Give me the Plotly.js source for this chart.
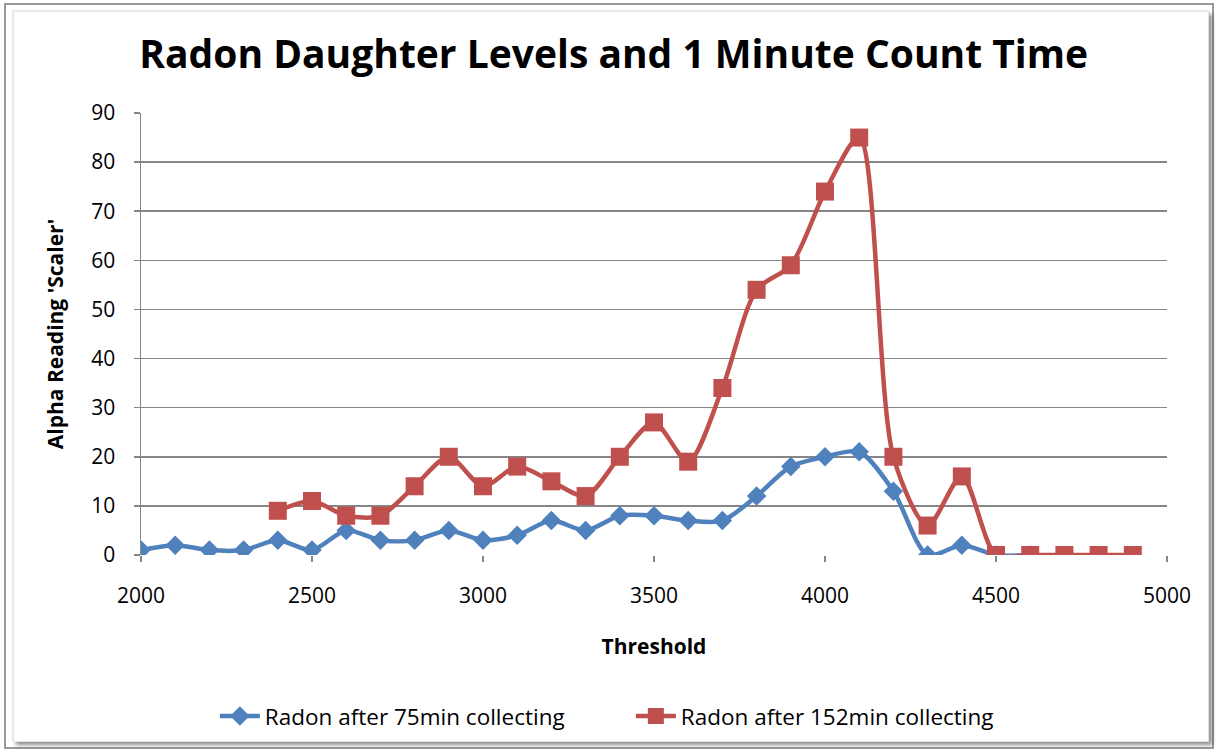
<!DOCTYPE html>
<html>
<head>
<meta charset="utf-8">
<script src="https://cdn.plot.ly/plotly-3.0.1.min.js"></script>
<style>
  html, body { margin: 0; padding: 0; background: #ffffff; }
  #outer { position: absolute; left: 4px; top: 3px; width: 1210px; height: 746px; border: 2px solid #9a9a9a; box-sizing: border-box; }
  #inner { position: absolute; left: 13px; top: 11px; width: 1196px; height: 731px; border: 1px solid #e2e2e2; box-sizing: border-box;
           box-shadow: 3px 3px 4px rgba(0,0,0,0.45), -1px -1px 2px rgba(0,0,0,0.08); background: #fff; }
  #chart { position: absolute; left: 0; top: 0; width: 1220px; height: 755px; }
</style>
</head>
<body>
<div id="outer"></div>
<div id="inner"></div>
<div id="chart"></div>
<script>
const thresholdBlue = [2000,2100,2200,2300,2400,2500,2600,2700,2800,2900,3000,3100,3200,3300,3400,3500,3600,3700,3800,3900,4000,4100,4200,4300,4400,4500,4600];
const radon75 = [1,2,1,1,3,1,5,3,3,5,3,4,7,5,8,8,7,7,12,18,20,21,13,0,2,0,0];
const thresholdRed = [2400,2500,2600,2700,2800,2900,3000,3100,3200,3300,3400,3500,3600,3700,3800,3900,4000,4100,4200,4300,4400,4500,4600,4700,4800,4900];
const radon152 = [9,11,8,8,14,20,14,18,15,12,20,27,19,34,54,59,74,85,20,6,16,0,0,0,0,0];
const seriesNames = ["Radon after 75min collecting", "Radon after 152min collecting"];
const chartTitle = "Radon Daughter Levels and 1 Minute Count Time";
const xTitle = "Threshold";
const yTitle = "Alpha Reading 'Scaler'";

const font = "'Open Sans', sans-serif";

const traces = [
  {
    x: thresholdBlue, y: radon75, name: seriesNames[0], type: "scatter", mode: "lines+markers",
    line: { color: "#4F81BD", width: 4.5, shape: "spline", smoothing: 0.8 },
    marker: { symbol: "diamond", size: 15, color: "#4F81BD" }
  },
  {
    x: thresholdRed, y: radon152, name: seriesNames[1], type: "scatter", mode: "lines+markers",
    line: { color: "#C0504D", width: 4.5, shape: "spline", smoothing: 0.8 },
    marker: { symbol: "square", size: 18, color: "#C0504D" }
  }
];

const layout = {
  width: 1220, height: 755,
  paper_bgcolor: "rgba(0,0,0,0)", plot_bgcolor: "rgba(0,0,0,0)",
  margin: { l: 141, r: 53, t: 113, b: 200 },
  font: { family: font, color: "#000", size: 20 },
  title: { text: "<b>" + chartTitle + "</b>", font: { family: font, size: 39, color: "#000" },
           x: 0.503, xanchor: "center", y: 0.928, yanchor: "middle" },
  xaxis: {
    range: [2000, 5000], dtick: 500, tick0: 2000, showgrid: false, zeroline: false,
    showline: false, ticks: "outside", ticklen: 6, tickcolor: "#868686", tickwidth: 1.5,
    ticklabelstandoff: 16,
    tickfont: { family: font, size: 21, color: "#000" },
    title: { text: "<b>" + xTitle + "</b>", font: { family: font, size: 21, color: "#000" }, standoff: 31 }
  },
  yaxis: {
    range: [0, 90], dtick: 10, showgrid: true, gridcolor: "#868686", gridwidth: 1.5,
    zeroline: false, showline: true, linecolor: "#868686", linewidth: 1.5,
    ticks: "outside", ticklen: 6, tickcolor: "#868686", tickwidth: 1.5,
    ticklabelstandoff: 14,
    tickfont: { family: font, size: 21, color: "#000" },
    title: { text: "<b>" + yTitle + "</b>", font: { family: font, size: 21, color: "#000" }, standoff: 22 }
  },
  showlegend: true,
  legend: { orientation: "h", x: 0.072, xanchor: "left", y: -0.365, yanchor: "middle",
            entrywidth: 361, entrywidthmode: "pixels",
            font: { family: font, size: 22.5, color: "#000" }, itemwidth: 40, traceorder: "normal" }
};

Plotly.newPlot("chart", traces, layout, { displayModeBar: false, staticPlot: true });
</script>
</body>
</html>
